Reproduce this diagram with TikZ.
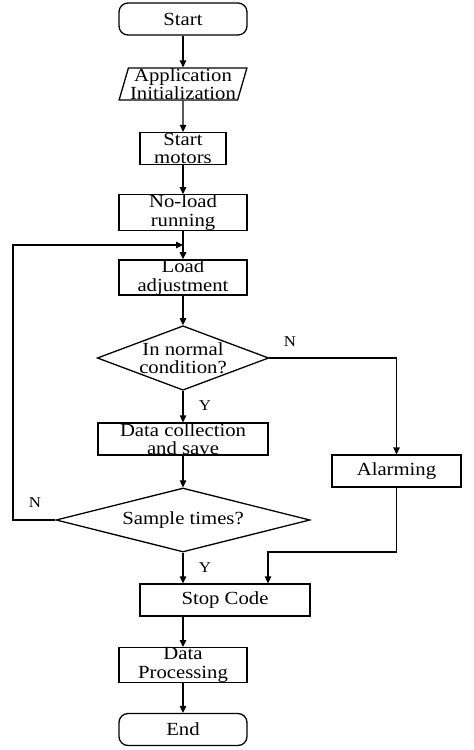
\documentclass[tikz,border=0pt]{standalone}
\usepackage{fontspec}
\setmainfont[FakeStretch=1.12]{Liberation Serif}
\usepackage{tikz}
\usetikzlibrary{shapes.geometric,positioning,arrows.meta}

\begin{document}
\begin{tikzpicture}[x=1pt,y=-1pt,line width=1.3pt,
  >={Triangle[length=7pt,width=6.5pt]},
  every node/.style={font=\fontsize{18.5}{18.5}\selectfont,align=center,inner sep=0pt},
  term/.style={rectangle,rounded corners=9pt,draw,minimum width=128pt,minimum height=32pt},
  proc/.style={rectangle,draw,minimum height=32pt},
  io/.style={trapezium,trapezium left angle=74,trapezium right angle=106,trapezium stretches=true,draw,minimum width=128pt,minimum height=32pt},
  decision/.style={diamond,draw,minimum height=64pt},
  yn/.style={font=\fontsize{15}{15}\selectfont}]
\useasboundingbox (0,0) rectangle (474,750);

% Terminals
\node[term] (start) at (183,19) {Start};
\node[term] (end) at (183,729.5) {End};

% Steps
\node[io] (init) at (183,84) {Application\\Initialization};
\node[proc,minimum width=86pt] (motors) at (183,148.5) {Start\\motors};
\node[proc,minimum width=128pt] (noload) at (183,212.5) {No-load\\running};
\node[proc,minimum width=128pt] (load) at (183,277.5) {Load\\adjustment};
\node[proc,minimum width=170pt] (data) at (183,439) {Data collection\\and save};
\node[proc,minimum width=129pt] (alarm) at (396.5,471) {Alarming};
\node[proc,minimum width=170pt] (stop) at (225,600) {Stop Code};
\node[proc,minimum width=128pt] (proc) at (183,665) {Data\\Processing};

% Decisions
\node[decision,aspect=2.66,minimum width=170pt] (cond) at (183,358) {In normal\\condition?};
\node[decision,aspect=3.97,minimum width=254pt] (sample) at (183,520) {Sample times?};

% Branch labels
\node[yn] (n1) at (290,342) {N};
\node[yn] (y1) at (205,406) {Y};
\node[yn] (n2) at (35,503) {N};
\node[yn] (y2) at (205,568) {Y};

% Corners
\coordinate (loopin) at (183,245);
\coordinate (loopcorner) at (13,245);
\coordinate (alarmcorner) at (268,552);

% Connections
\draw[->] (start) -- (init);
\draw[->] (init) -- (motors);
\draw[->] (motors) -- (noload);
\draw[->] (noload) -- (load);
\draw[->] (load) -- (cond);
\draw[->] (cond) -- (data);
\draw[->] (cond.east) -| (alarm.north);
\draw[->] (data) -- (sample);
\draw[->] (sample.west) -| (loopcorner) -- (loopin);
\draw[->] (sample.south) -- (sample.south |- stop.north);
\draw[->] (alarm.south) |- (alarmcorner) -- (alarmcorner |- stop.north);
\draw[->] (stop.south -| proc.north) -- (proc.north);
\draw[->] (proc) -- (end);
\end{tikzpicture}
\end{document}
